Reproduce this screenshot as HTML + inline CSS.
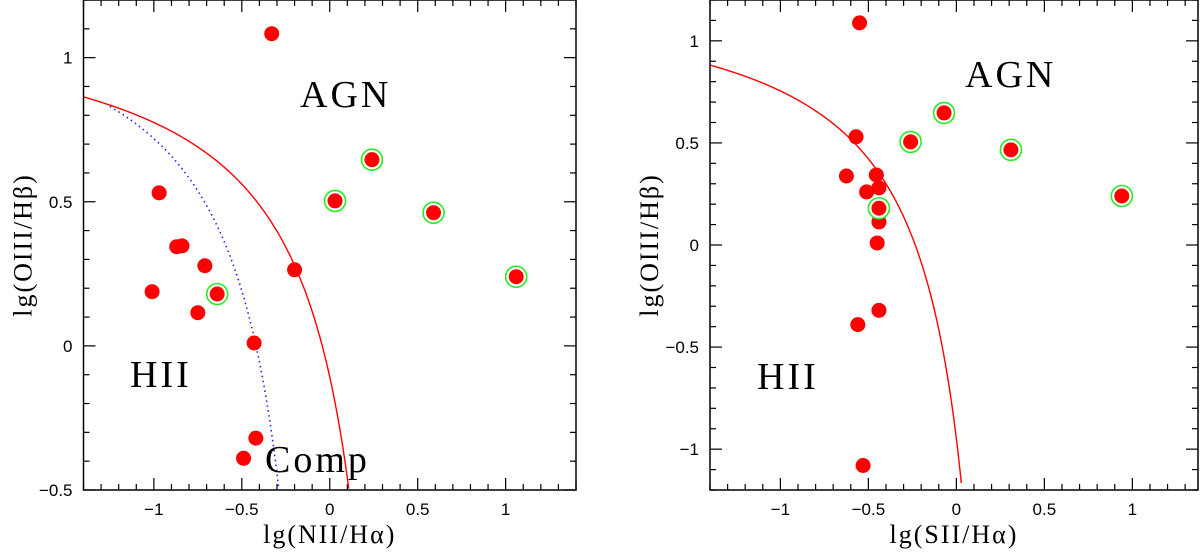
<!DOCTYPE html>
<html><head><meta charset="utf-8"><style>
html,body{margin:0;padding:0;background:#fff}
svg{display:block}
.tl{font-family:"Liberation Sans",sans-serif;font-size:17px;fill:#000}
.ax{font-family:"Liberation Serif",serif;font-size:26px;fill:#000;letter-spacing:2px}
.rg{font-family:"Liberation Serif",serif;font-size:38px;fill:#000;letter-spacing:3px}
</style></head><body>
<svg id="c" width="1200" height="555" xmlns="http://www.w3.org/2000/svg"></svg>
<script>
// Panel 1 data: lg(NII/Ha) vs lg(OIII/Hb)
const nX=[-0.33,-0.97,-0.87,-0.84,-0.71,-1.01,-0.75,-0.20,-0.43,-0.42,-0.49];
const nY=[1.083,0.531,0.344,0.347,0.278,0.188,0.115,0.264,0.01,-0.32,-0.39];
const nGX=[-0.64,0.03,0.24,0.59,1.06];
const nGY=[0.18,0.503,0.646,0.462,0.24];
// Panel 2 data: lg(SII/Ha) vs lg(OIII/Hb)
const sX=[-0.55,-0.57,-0.625,-0.51,-0.455,-0.44,-0.44,-0.45,-0.44,-0.56,-0.53];
const sY=[1.088,0.53,0.338,0.26,0.343,0.28,0.113,0.01,-0.32,-0.39,-1.08];
const sGX=[-0.44,-0.26,-0.07,0.31,0.94];
const sGY=[0.18,0.505,0.647,0.466,0.24];
const xTicks1=[-1,-0.5,0,0.5,1], yTicks1=[-0.5,0,0.5,1];
const xTicks2=[-1,-0.5,0,0.5,1], yTicks2=[-1,-0.5,0,0.5,1];

const NS='http://www.w3.org/2000/svg';
const svg=document.getElementById('c');
function mk(t,a,p){const e=document.createElementNS(NS,t);for(const k in a)e.setAttribute(k,a[k]);(p||svg).appendChild(e);return e;}
function fmt(v){return (v<0?'\u2212':'')+String(Math.abs(v));}

function panel(o){
  const g=mk('g',{});
  
  
  const sx=v=>o.L+(v-o.x0)/(o.x1-o.x0)*(o.R-o.L);
  const sy=v=>o.B-(v-o.y0)/(o.y1-o.y0)*(o.B-o.T);
  const ticks=mk('g',{stroke:'#000','stroke-width':1.2},g);
  
  
  for(let i=Math.ceil(o.x0*10);i<=Math.floor(o.x1*10);i++){
    const v=i/10,x=sx(v),len=(i%5===0)?12:6;
    mk('line',{x1:x,y1:o.B,x2:x,y2:o.B-len},ticks);
    mk('line',{x1:x,y1:o.T,x2:x,y2:o.T+len},ticks);
  }
  for(let i=Math.ceil(o.y0*10);i<=Math.floor(o.y1*10);i++){
    const v=i/10,y=sy(v),len=(i%5===0)?12:6;
    mk('line',{x1:o.L,y1:y,x2:o.L+len,y2:y},ticks);
    mk('line',{x1:o.R,y1:y,x2:o.R-len,y2:y},ticks);
  }
  o.xt.forEach(v=>{const t=mk('text',{x:sx(v),y:o.B+25,'text-anchor':'middle',class:'tl'},g);t.textContent=fmt(v);
    });
  o.yt.forEach(v=>{const t=mk('text',{x:o.L-11,y:sy(v)+6,'text-anchor':'end',class:'tl'},g);t.textContent=fmt(v);
    });
  o.curves.forEach(c=>{
    let d='';
    for(let i=0;i<=400;i++){const x=c.xa+(c.xb-c.xa)*i/400;const y=c.f(x);if(y<o.y0||y>o.y1)continue;
      d+=(d?'L':'M')+sx(x).toFixed(2)+','+sy(y).toFixed(2);}
    const p=mk('path',Object.assign({d:d,fill:'none'},c.st),g);
    
  });
  o.X.forEach((v,i)=>{const c=mk('circle',{cx:sx(v),cy:sy(o.Y[i]),r:7.5,fill:'#ff0000'},g);
    });
  o.GX.forEach((v,i)=>{
    const r=mk('circle',{cx:sx(v),cy:sy(o.GY[i]),r:10.5,fill:'#fff',stroke:'#22ee22','stroke-width':1.6},g);
    
    const c=mk('circle',{cx:sx(v),cy:sy(o.GY[i]),r:7.5,fill:'#ff0000'},g);
    });
  const f=mk('rect',{x:o.L,y:o.T,width:o.R-o.L,height:o.B-o.T,fill:'none',stroke:'#000','stroke-width':1.5},g);
  
  const xt=mk('text',{x:(o.L+o.R)/2,y:543,'text-anchor':'middle',class:'ax'},g);xt.textContent=o.xlab;
  
  const yc=(o.T+o.B)/2;
  const yt=mk('text',{x:o.L-60,y:yc,'text-anchor':'middle',class:'ax',transform:`rotate(-90 ${o.L-60} ${yc})`,dy:8},g);yt.textContent='lg(OIII/H\u03b2)';
  
  o.labels.forEach(l=>{const t=mk('text',{x:l[1],y:l[2],class:'rg'},g);t.textContent=l[0];
    });
}
panel({name:'nii-panel',L:83.5,R:576,T:0,B:490,x0:-1.4,x1:1.4,y0:-0.5,y1:1.2,xt:xTicks1,yt:yTicks1,
  X:nX,Y:nY,GX:nGX,GY:nGY,xlab:'lg(NII/H\u03b1)',
  curves:[{name:'kewley-curve',xa:-1.4,xb:0.2,f:x=>0.61/(x-0.47)+1.19,st:{stroke:'#ff0000','stroke-width':1.4}},
          {name:'kauffmann-curve',xa:-1.25,xb:0.0,f:x=>0.61/(x-0.05)+1.3,st:{stroke:'#2222ff','stroke-width':1.6,'stroke-dasharray':'1.5,3.5'}}],
  labels:[['AGN',300,107],['HII',130,387],['Comp',265,472]]});
panel({name:'sii-panel',L:710,R:1198,T:0,B:490,x0:-1.4,x1:1.373,y0:-1.2,y1:1.2,xt:xTicks2,yt:yTicks2,
  X:sX,Y:sY,GX:sGX,GY:sGY,xlab:'lg(SII/H\u03b1)',
  curves:[{name:'kewley-sii-curve',xa:-1.4,xb:0.3,f:x=>0.72/(x-0.32)+1.30,st:{stroke:'#ff0000','stroke-width':1.4}}],
  labels:[['AGN',965,87],['HII',757,389]]});
</script>
</body></html>
